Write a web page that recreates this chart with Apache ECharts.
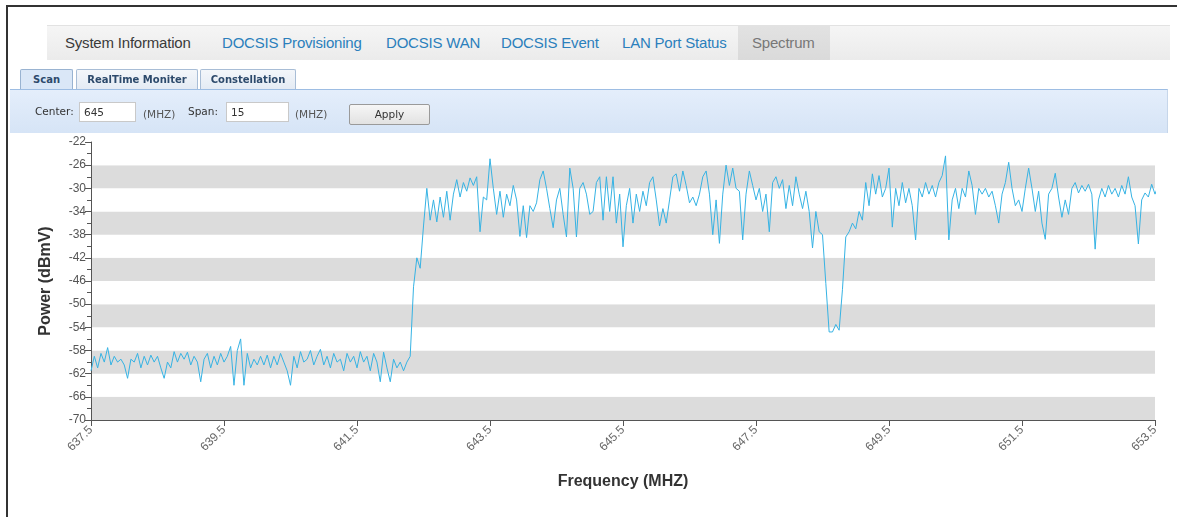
<!DOCTYPE html>
<html><head><meta charset="utf-8">
<script src="https://cdn.jsdelivr.net/npm/echarts@6/dist/echarts.min.js"></script>
<style>
html,body{margin:0;padding:0;width:1177px;height:517px;overflow:hidden;background:#fff;font-family:"Liberation Sans",Arial,sans-serif;}
#chart{position:absolute;left:0;top:0;width:1177px;height:517px;}
#frame{position:absolute;left:6px;top:5px;width:1171px;height:512px;border-left:2px solid #333;border-top:2px solid #333;box-sizing:border-box;pointer-events:none;}
.ui{position:absolute;}
#tabbar{left:47px;top:25px;width:1123px;height:34px;background:linear-gradient(#f5f5f5,#ebebeb);border-top:1px solid #e2e2e2;}
.tab{position:absolute;top:0;height:34px;line-height:34px;font-size:15px;color:#2b7fbc;white-space:nowrap;letter-spacing:-0.2px;}
#sel{position:absolute;left:691px;top:0;width:92px;height:34px;background:linear-gradient(#e2e2e2,#dadada);}
.stab{position:absolute;top:69px;height:20px;line-height:20px;font-family:"DejaVu Sans",sans-serif;font-weight:bold;font-size:10px;color:#2d4a6c;text-align:center;border:1px solid #a8bdd6;border-bottom:none;background:linear-gradient(#f3f6fa,#e4ebf4);box-sizing:border-box;border-radius:2px 2px 0 0;}
#toolbar{left:10px;top:89px;width:1158px;height:44px;background:linear-gradient(#e4eefb,#d6e4f6);border-top:1px solid #9dbde3;border-right:1px solid #c6d6ea;box-sizing:border-box;}
.lbl{position:absolute;font-family:"DejaVu Sans",sans-serif;font-size:10.5px;color:#333;white-space:nowrap;}
.inp{position:absolute;height:20px;background:#fff;border:1px solid #c9c9c9;box-sizing:border-box;font-family:"DejaVu Sans",sans-serif;font-size:10.5px;color:#333;line-height:18px;padding-left:4px;}
#apply{position:absolute;left:339px;top:14px;width:81px;height:21px;border:1px solid #9a9a9a;border-radius:2px;background:linear-gradient(#f6f6f6,#e2e2e2);box-sizing:border-box;font-family:"DejaVu Sans",sans-serif;font-size:10.5px;color:#333;text-align:center;line-height:19px;}
</style></head>
<body>
<div id="chart"></div>
<div id="frame"></div>
<div id="tabbar" class="ui">
  <div id="sel"></div>
  <div class="tab" style="left:18px;color:#3a3a3a">System Information</div>
  <div class="tab" style="left:175px">DOCSIS Provisioning</div>
  <div class="tab" style="left:339px">DOCSIS WAN</div>
  <div class="tab" style="left:454px">DOCSIS Event</div>
  <div class="tab" style="left:575px">LAN Port Status</div>
  <div class="tab" style="left:705px;color:#777">Spectrum</div>
</div>
<div class="stab ui" style="left:20px;width:53px;background:#dae7f7;border-color:#99b3d1">Scan</div>
<div class="stab ui" style="left:76px;width:122px">RealTime Moniter</div>
<div class="stab ui" style="left:200px;width:96px">Constellation</div>
<div id="toolbar" class="ui">
  <div class="lbl" style="left:25px;top:15px">Center:</div>
  <div class="inp" style="left:69px;top:12px;width:57px">645</div>
  <div class="lbl" style="left:133px;top:18px;color:#555">(MHZ)</div>
  <div class="lbl" style="left:178px;top:15px">Span:</div>
  <div class="inp" style="left:216px;top:12px;width:63px">15</div>
  <div class="lbl" style="left:285px;top:18px;color:#555">(MHZ)</div>
  <div id="apply">Apply</div>
</div>
<script>
// Spectrum scan: sample start frequency, sample spacing (MHz) and measured power (dBmV)
const freqStart = 637.5;
const freqStep = 0.05;
const power = [
  -61.5, -59, -61, -58.5, -60, -57.5, -60.5, -59, -60, -59.5,
  -60.5, -62.8, -59.5, -60, -58.5, -61, -59, -60.5, -58.8, -60,
  -59, -61, -62.8, -60, -61, -58.2, -60, -58.5, -59.5, -58.3,
  -60.5, -59, -60, -63.4, -59.5, -58.5, -61, -59, -60.5, -58.5,
  -60, -59, -57.3, -64, -58, -56, -64, -58.5, -61, -59.5,
  -60.5, -59, -60.5, -58.8, -61, -59, -60.5, -58.5, -60, -61.5,
  -64, -59, -61, -58.2, -60, -59.5, -58, -60.5, -59, -57.8,
  -60.5, -59, -61, -58.5, -60, -59.5, -61.5, -58.5, -60, -59,
  -61, -58.2, -60, -59, -61.5, -58.5, -60, -63.4, -58.3, -61,
  -63.4, -59.5, -61, -60, -61.5, -60, -59, -47, -42, -43.8,
  -36.5, -30, -35.5, -32, -35.8, -31.5, -35, -30.5, -35.5, -31,
  -28.5, -31.5, -29, -30.5, -28.2, -29.5, -28, -37.5, -31.5, -32,
  -24.9, -30, -34.5, -30.5, -35, -31, -33, -29.5, -32, -38.3,
  -33, -38.5, -33, -34, -32.5, -28.5, -27, -30, -33.5, -36.8,
  -32, -30, -34.5, -38.4, -26.5, -30, -38.4, -30, -29, -31,
  -34.5, -34, -29, -28, -35.5, -28, -34, -28, -36, -31,
  -40.1, -33, -30, -36, -31, -34, -30.5, -33, -29, -28,
  -32, -36.5, -33.5, -36, -32, -28, -27.5, -30.5, -27, -29.5,
  -32.5, -31.5, -33, -31, -28, -27, -31, -38, -32, -39.5,
  -31, -26, -29.5, -26.5, -30, -30.5, -38.9, -31, -27, -29.5,
  -32, -30, -34, -31, -37.5, -29, -28, -30, -28.5, -33.5,
  -29.5, -33, -28, -31, -33.5, -30.5, -34, -40.3, -34, -37.5,
  -38, -46.4, -54.8, -54.8, -53.5, -54.5, -47.5, -38.4, -37.5, -36,
  -37, -34, -35.5, -29, -33, -27.5, -31, -27.8, -31.5, -30,
  -26.5, -36.7, -30, -33, -29, -32.5, -30, -33, -38.9, -30,
  -31.5, -29, -31, -29.5, -31.5, -29, -27.8, -24.4, -38.9, -32,
  -30, -33.5, -30, -31.5, -27, -29.5, -34.5, -30, -31, -30,
  -31.5, -30.5, -33, -36, -31, -29, -25.5, -30, -33, -32,
  -34, -30, -26.5, -30, -34, -30.5, -36, -38.8, -31, -30,
  -27.4, -31.5, -35, -32, -34.5, -30, -29, -30.8, -29.5, -30.5,
  -29.3, -31, -40.5, -32, -30, -31.5, -29.5, -31, -30, -31.5,
  -29.5, -31, -28, -31.5, -33, -39.6, -32, -30.8, -31.5, -29.3,
  -31, -29.5, -33, -34.7
];
const freqMin = 637.5, freqMax = 653.5, freqInterval = 2;
const powerMin = -70, powerMax = -22, powerInterval = 4;

const data = power.map((v, i) => [+(freqStart + i * freqStep).toFixed(2), v]);

const chart = echarts.init(document.getElementById('chart'), null, {renderer: 'canvas'});
chart.setOption({
  animation: false,
  textStyle: {fontFamily: 'Liberation Sans, Arial, sans-serif'},
  grid: {left: 91, right: 22, top: 142, bottom: 97, containLabel: false},
  xAxis: {
    type: 'value', min: freqMin, max: freqMax, interval: freqInterval,
    name: 'Frequency (MHZ)', nameLocation: 'middle', nameGap: 54,
    nameTextStyle: {fontSize: 16, fontWeight: 'bold', color: '#333'},
    axisLine: {show: true, lineStyle: {color: '#555', width: 1}},
    axisTick: {show: true, length: 6, lineStyle: {color: '#555'}},
    axisLabel: {rotate: 45, color: '#666', fontSize: 12, margin: 8, formatter: v => v.toFixed(1)},
    splitLine: {show: false}
  },
  yAxis: {
    type: 'value', min: powerMin, max: powerMax, interval: powerInterval,
    name: 'Power (dBmV)', nameLocation: 'middle', nameGap: 37, nameRotate: 90,
    nameTextStyle: {fontSize: 16, fontWeight: 'bold', color: '#333'},
    axisLine: {show: true, lineStyle: {color: '#555', width: 1}},
    axisTick: {show: true, length: 6, lineStyle: {color: '#555'}},
    minorTick: {show: true, splitNumber: 2, length: 4, lineStyle: {color: '#555'}},
    axisLabel: {color: '#555', fontSize: 12, margin: 5},
    splitLine: {show: false},
    splitArea: {show: true, areaStyle: {color: ['#dcdcdc', '#ffffff']}}
  },
  series: [{
    type: 'line', data: data, showSymbol: false, clip: false,
    lineStyle: {color: '#36b3e4', width: 1}
  }]
});
</script>
</body></html>
